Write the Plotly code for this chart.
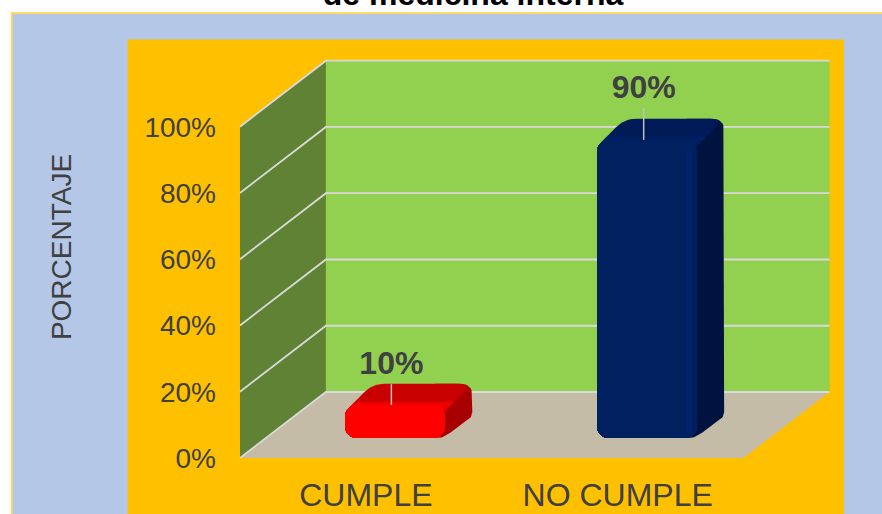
import plotly.graph_objects as go

categories = ["CUMPLE", "NO CUMPLE"]
values = [10, 90]
value_labels = ["10%", "90%"]
y_ticks = [0, 20, 40, 60, 80, 100]
y_tick_labels = ["0%", "20%", "40%", "60%", "80%", "100%"]
title_text = "de medicina interna"
y_title = "PORCENTAJE"

W, H = 882, 514
PX_X = 252.0          # px per category
PX_Y = 3.313          # px per percent
X0, Y0 = 239.5, 458.0 # px of the axis origin
L = 216.5
D_X, D_Y = 86.0 / PX_X, 66.0 / PX_Y            # wall depth in axis units
B_DX, B_DY = 27.0 / PX_X, 21.0 / PX_Y          # bar depth in axis units
BAR_W = 100.0 / PX_X
BAR_SHIFT = 29.5 / PX_X
BAR_BASE = 20.0 / PX_Y
LABEL_LIFT = [17.7, 21.1]
LEADER_LIFT = [12.3, 15.6]
LABEL_DX = [-4 / PX_X, -3.5 / PX_X]
GREY = "#404040"

x_range = [(L - X0) / PX_X, (W - X0) / PX_X]
y_range = [0, Y0 / PX_Y]


def rounded(pts, radii):
    """Polygon (axis units) with corners rounded by radius in px."""
    P = [(x * PX_X, y * PX_Y) for x, y in pts]
    xs, ys = [], []
    n = len(P)
    for i in range(n):
        a, b, c = P[i - 1], P[i], P[(i + 1) % n]
        r = radii[i]
        if r == 0:
            xs.append(b[0]); ys.append(b[1])
            continue
        def toward(p, q):
            d = ((q[0] - p[0]) ** 2 + (q[1] - p[1]) ** 2) ** 0.5
            t = min(r / d, 0.5)
            return (p[0] + (q[0] - p[0]) * t, p[1] + (q[1] - p[1]) * t)
        s, e = toward(b, a), toward(b, c)
        for k in range(9):
            t = k / 8
            xs.append((1 - t) ** 2 * s[0] + 2 * t * (1 - t) * b[0] + t ** 2 * e[0])
            ys.append((1 - t) ** 2 * s[1] + 2 * t * (1 - t) * b[1] + t ** 2 * e[1])
    return [x / PX_X for x in xs] + [xs[0] / PX_X], [y / PX_Y for y in ys] + [ys[0] / PX_Y]


def poly(xs, ys, color):
    return go.Scatter(x=xs, y=ys, mode="lines", fill="toself", fillcolor=color,
                      line=dict(width=0, color=color), hoverinfo="skip", showlegend=False)


fig = go.Figure()
n = len(categories)
top = y_ticks[-1]

# walls and floor
fig.add_trace(poly([0, D_X, D_X, 0, 0], [0, D_Y, top + D_Y, top, 0], "#608234"))
fig.add_trace(poly([D_X, n + D_X, n + D_X, D_X, D_X], [D_Y, D_Y, top + D_Y, top + D_Y, D_Y], "#92D050"))
fig.add_trace(poly([0, n, n + D_X, D_X, 0], [0, 0, D_Y, D_Y, 0], "#C4BCA6"))

# gridlines
for t in y_ticks:
    fig.add_trace(go.Scatter(x=[0, D_X, n + D_X], y=[t, t + D_Y, t + D_Y], mode="lines",
                             line=dict(color="#D9D9D9", width=1.8), hoverinfo="skip", showlegend=False))

centers = [i + 0.5 + BAR_SHIFT for i in range(n)]
top_colors = ["#C80000", "#001A58"]
bevel_colors = ["#EE0000", "#001E62"]
side_colors = ["#A80000", "#00123F"]
front_colors = ["#FF0000", "#002060"]
edge_colors = ["#FF0000", "#02236C"]

# bar extrusions: silhouette in the side colour, then the top face over it
for c, v, tc, bc, sc in zip(centers, values, top_colors, bevel_colors, side_colors):
    l, r = c - BAR_W / 2, c + BAR_W / 2
    b, t = BAR_BASE, BAR_BASE + v
    xs, ys = rounded([(r - 0.04, b), (r - 0.01, b), (r + B_DX, b + B_DY), (r + B_DX, t + B_DY),
                      (r - 0.04, t + B_DY), (r - 0.04, t)],
                     [0, 12, 6, 12, 0, 0])
    fig.add_trace(poly(xs, ys, sc))
    xs, ys = rounded([(l, t - 2), (l + B_DX, t + B_DY), (r + B_DX, t + B_DY), (r, t - 2)], [8, 12, 14, 6])
    fig.add_trace(poly(xs, ys, tc))
    k = 0.35
    mid = t - 2 + k * (B_DY + 2)
    xs, ys = rounded([(l, t - 2), (l + k * B_DX, mid), (r + k * B_DX, mid), (r, t - 2)], [8, 0, 0, 4])
    fig.add_trace(poly(xs, ys, bc))

# front faces
fig.add_trace(go.Bar(x=centers, y=values, base=[BAR_BASE] * n, width=[BAR_W] * n,
                     marker=dict(color=front_colors, cornerradius=10, line=dict(width=0)),
                     xaxis="x2", yaxis="y2", hoverinfo="skip", showlegend=False))

# soft highlight near the right edge of each front face
for c, v, ec in zip(centers, values, edge_colors):
    xe = c + BAR_W / 2 - 8 / PX_X
    fig.add_trace(go.Scatter(x=[xe, xe], y=[BAR_BASE + 1.5, BAR_BASE + v - 3], mode="lines",
                             line=dict(color=ec, width=5), xaxis="x2", yaxis="y2",
                             hoverinfo="skip", showlegend=False))

# leader lines and labels
for c, v, dxl, lift in zip(centers, values, LABEL_DX, LEADER_LIFT):
    fig.add_trace(go.Scatter(x=[c + dxl, c + dxl], y=[BAR_BASE + v, v + lift], mode="lines",
                             line=dict(color="#BFBFBF", width=1.5), xaxis="x2", yaxis="y2",
                             hoverinfo="skip", showlegend=False))
fig.add_trace(go.Scatter(x=[c + d for c, d in zip(centers, LABEL_DX)],
                         y=[v + l for v, l in zip(values, LABEL_LIFT)],
                         text=value_labels, mode="text", textposition="middle center",
                         textfont=dict(family="Liberation Sans", size=32, color=GREY, weight="bold"),
                         xaxis="x2", yaxis="y2", hoverinfo="skip", showlegend=False))

px = lambda p: (p - L) / (W - L)
py = lambda p: (Y0 - p) / Y0
fig.update_layout(
    width=W, height=H, autosize=False,
    margin=dict(l=L, r=0, t=0, b=H - int(Y0), pad=0),
    paper_bgcolor="white", plot_bgcolor="rgba(0,0,0,0)",
    showlegend=False, bargap=0,
    title=dict(text=f"<b>{title_text}</b>", x=473 / W, xanchor="center", y=1 - 5 / H, yanchor="bottom",
               yref="container", font=dict(family="Liberation Sans", size=32, color="black")),
    xaxis=dict(range=x_range, tickvals=[i + 0.5 for i in range(n)], ticktext=categories,
               showgrid=False, zeroline=False, showline=False, ticks="outside", ticklen=9,
               tickcolor="rgba(0,0,0,0)", fixedrange=True,
               tickfont=dict(family="Liberation Sans", size=32, color=GREY)),
    yaxis=dict(range=y_range, tickvals=y_ticks, ticktext=y_tick_labels,
               showgrid=False, zeroline=False, showline=False, ticks="", fixedrange=True,
               tickfont=dict(family="Liberation Sans", size=28, color=GREY)),
    xaxis2=dict(matches="x", overlaying="x", visible=False),
    yaxis2=dict(matches="y", overlaying="y", visible=False),
    annotations=[dict(text=y_title, xref="paper", yref="paper", x=px(61), y=py(247.5), textangle=-90,
                      showarrow=False, xanchor="center", yanchor="middle",
                      font=dict(family="Liberation Sans", size=28, color=GREY))],
    shapes=[
        dict(type="rect", xref="paper", yref="paper", x0=px(11), x1=px(W + 5), y0=py(H + 5), y1=py(13),
             fillcolor="#B4C7E7", line=dict(color="#FFD966", width=2), layer="below"),
        dict(type="rect", xref="paper", yref="paper", x0=px(127), x1=px(844), y0=py(H + 5), y1=py(39.5),
             fillcolor="#FFC000", line=dict(width=0), layer="below"),
    ],
)
fig.write_html("out.html", config={"displayModeBar": False},
               post_script="document.body.style.margin='0';document.body.style.overflow='hidden';")
